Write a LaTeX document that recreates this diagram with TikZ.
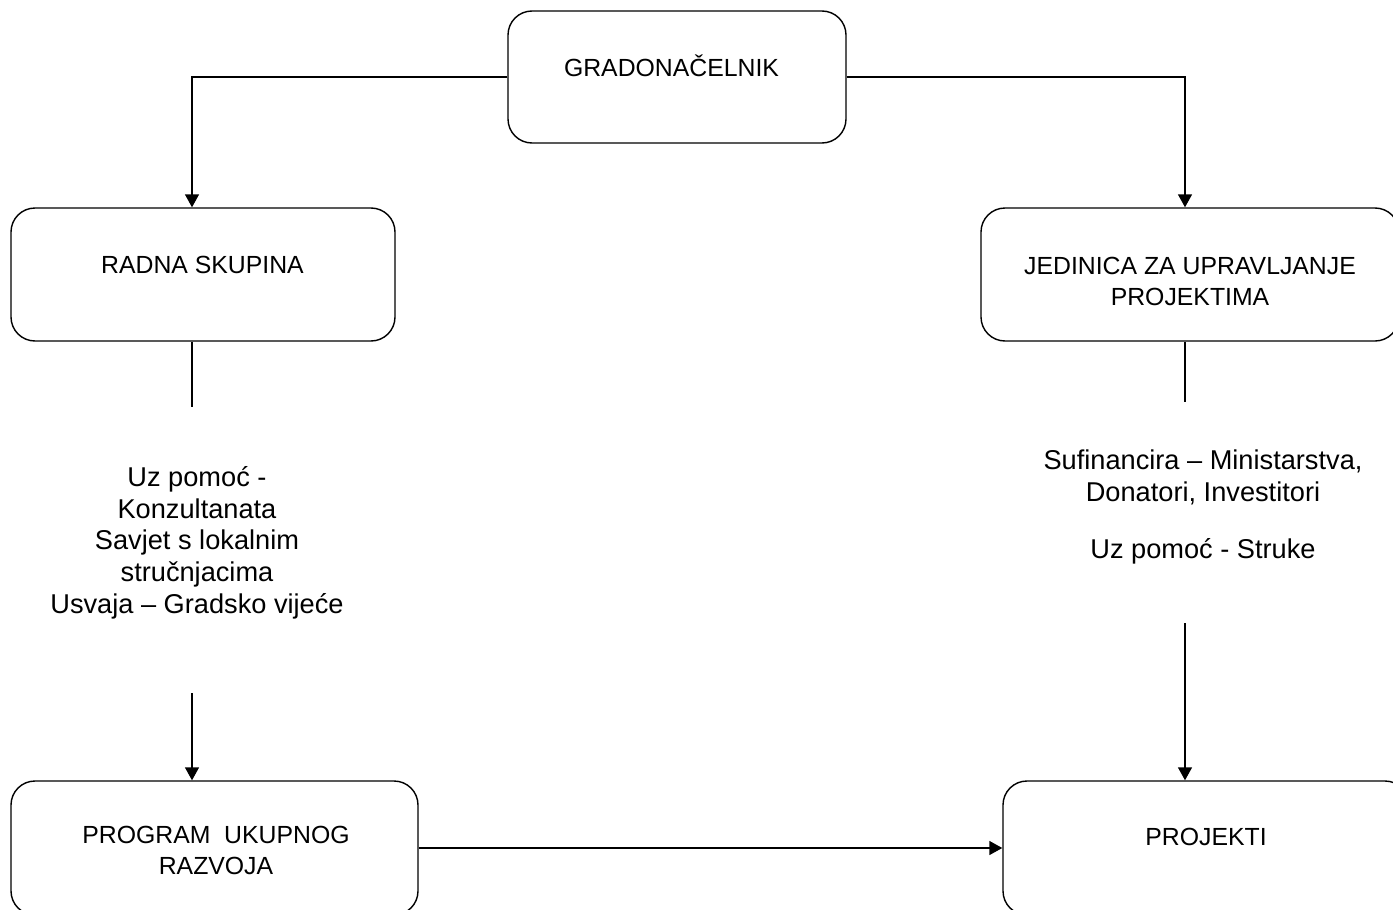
\documentclass[tikz,border=0pt]{standalone}
\usepackage{fontspec}
\setmainfont{Liberation Sans}
\usetikzlibrary{arrows.meta,positioning}

\tikzset{
  box/.style={draw, rounded corners=12pt, inner sep=0pt, line width=0.7pt},
  lbl/.style={align=center, inner sep=0pt, font=\fontsize{12.4}{15.5}\selectfont},
  note/.style={lbl, font=\fontsize{13.6}{15.8}\selectfont},
  ln/.style={line width=0.7pt},
  arr/.style={ln, -{Triangle[length=6.5pt,width=7pt]}}
}

\begin{document}
\begin{tikzpicture}[x=0.5pt, y=-0.5pt]
  \useasboundingbox (0,0) rectangle (1393,910);
  \clip (0,0) rectangle (1393,910);
  \node[box, minimum width=169pt, minimum height=66pt] (grad) at (677,77) {};
  \node[box, minimum width=192pt, minimum height=66.5pt] (rad) at (203,274.5) {};
  \node[box, minimum width=209pt, minimum height=66.5pt] (jed) at (1190,274.5) {};
  \node[box, minimum width=203.5pt, minimum height=67pt] (prog) at (214.5,848) {};
  \node[box, minimum width=203pt, minimum height=67pt] (proj) at (1206,848) {};

  \node[lbl, anchor=base] (gradtxt) at (671.5,76) {GRADONAČELNIK};
  \node[lbl, anchor=base] (radtxt) at (202.5,273) {RADNA SKUPINA};
  \node[lbl, anchor=base] (jedtxt) at (1190,305) {JEDINICA ZA UPRAVLJANJE\\PROJEKTIMA};
  \node[lbl, anchor=base] (progtxt) at (216,874) {PROGRAM\ \ UKUPNOG\\RAZVOJA};
  \node[lbl, anchor=base] (projtxt) at (1206,845) {PROJEKTI};

  \node[note, anchor=base] (radnote) at (197,613) {Uz pomoć -\\Konzultanata\\Savjet s lokalnim\\stručnjacima\\Usvaja – Gradsko vijeće};
  \node[note, anchor=base] (jednote) at (1203,558) {Sufinancira – Ministarstva,\\Donatori, Investitori\\[12.5pt]Uz pomoć - Struke};

  \coordinate (radend) at (192,407);
  \coordinate (progstart) at (192,693);
  \coordinate (jedend) at (1185,402);
  \coordinate (projstart) at (1185,623);

  \draw[arr] (grad.west) -| (radend |- rad.north);
  \draw[arr] (grad.east) -| (jedend |- jed.north);
  \draw[ln] (radend |- rad.south) -- (radend);
  \draw[ln] (jedend |- jed.south) -- (jedend);
  \draw[arr] (progstart) -- (progstart |- prog.north);
  \draw[arr] (projstart) -- (projstart |- proj.north);
  \draw[arr] (prog.east) -- (proj.west);
\end{tikzpicture}
\end{document}
